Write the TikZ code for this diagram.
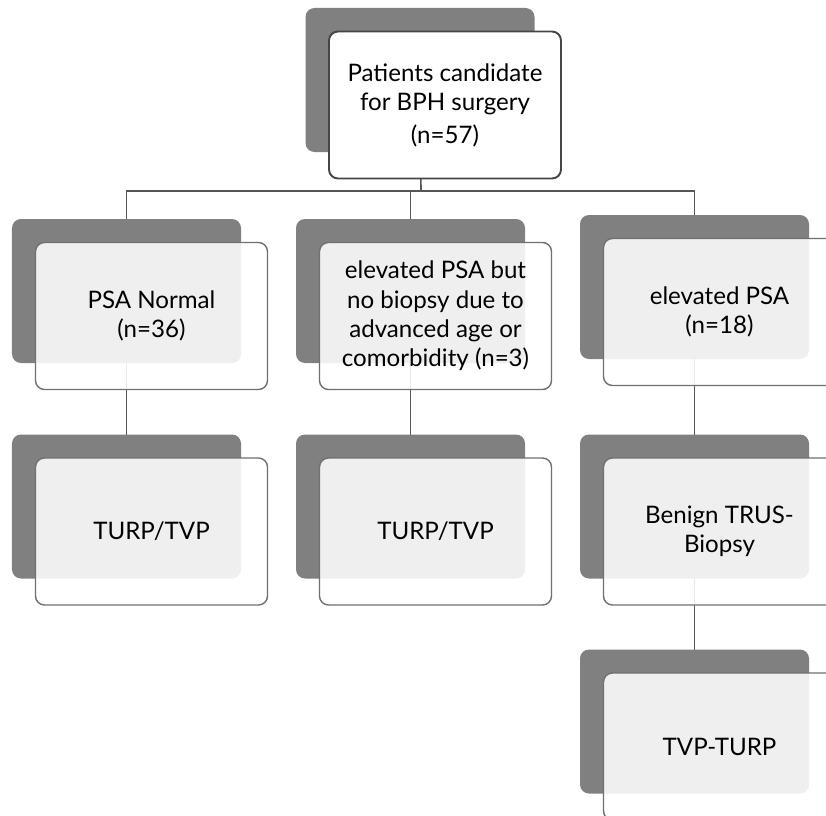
\documentclass[tikz,border=0pt]{standalone}
\usepackage{fontspec}
\setmainfont{Lato}
\usepackage{xcolor}
\usetikzlibrary{positioning}
\definecolor{shadeGrey}{HTML}{808080}
\definecolor{edgeGrey}{HTML}{707070}
\definecolor{rootEdge}{HTML}{454545}
\definecolor{linkGrey}{HTML}{565656}
\pgfdeclarelayer{behind}
\pgfsetlayers{behind,main}

\tikzset{
  backbox/.style={fill=shadeGrey,rounded corners=9bp,
    minimum width=229bp,minimum height=144bp,inner sep=0pt},
  card/.style={draw=edgeGrey,line width=1.4bp,fill=white,
    fill opacity=0.88,text opacity=1,draw opacity=1,rounded corners=9bp,
    minimum width=232bp,minimum height=147bp,inner sep=0pt,
    align=center,font=\fontsize{24.2}{29.5}\selectfont,
    xshift=25bp,yshift=-25bp},
  rootcard/.style={card,draw=rootEdge,line width=1.9bp,fill opacity=1},
  link/.style={linkGrey,line width=1.6bp}
}

\begin{document}
\begin{tikzpicture}[x=1bp,y=-1bp]
  \useasboundingbox (0,0) rectangle (826,816);
  % top
  \node[backbox] (root-bk) at (420,80) {};
  \node[rootcard] (root) at (root-bk)
    {Patients candidate\\for BPH surgery\\[3bp](n=57)};
  % second row
  \node[backbox] (psa-bk) at (126.5,291) {};
  \node[card] (psa) at (psa-bk) {PSA Normal\\(n=36)};
  \node[backbox] (old-bk) at (410.5,291) {};
  \node[card] (old) at (old-bk)
    {elevated PSA but\\no biopsy due to\\advanced age or\\comorbidity (n=3)};
  \node[backbox] (high-bk) at (694.5,287) {};
  \node[card] (high) at (high-bk) {elevated PSA\\(n=18)};
  % third row
  \node[backbox] (turpa-bk) at (126.5,506.5) {};
  \node[card] (turpa) at (turpa-bk) {TURP/TVP};
  \node[backbox] (turpb-bk) at (410.5,506.5) {};
  \node[card] (turpb) at (turpb-bk) {TURP/TVP};
  \node[backbox] (benign-bk) at (694.5,506.5) {};
  \node[card] (benign) at (benign-bk) {Benign TRUS-\\Biopsy};
  % last
  \node[backbox] (tvp-bk) at (694.5,721.5) {};
  \node[card] (tvp) at (tvp-bk) {TVP-TURP};

  \begin{pgfonlayer}{behind}
    \coordinate (bus) at (421,191);
    \draw[link] (root-bk.center) -- (bus);
    \draw[link] (psa-bk.center) |- (bus) -| (high-bk.center);
    \draw[link] (old-bk.center) -- (old-bk.center |- bus);
    \draw[link] (psa-bk.center) -- (turpa-bk.center);
    \draw[link] (old-bk.center) -- (turpb-bk.center);
    \draw[link] (high-bk.center) -- (benign-bk.center);
    \draw[link] (benign-bk.center) -- (tvp-bk.center);
  \end{pgfonlayer}
\end{tikzpicture}
\end{document}
